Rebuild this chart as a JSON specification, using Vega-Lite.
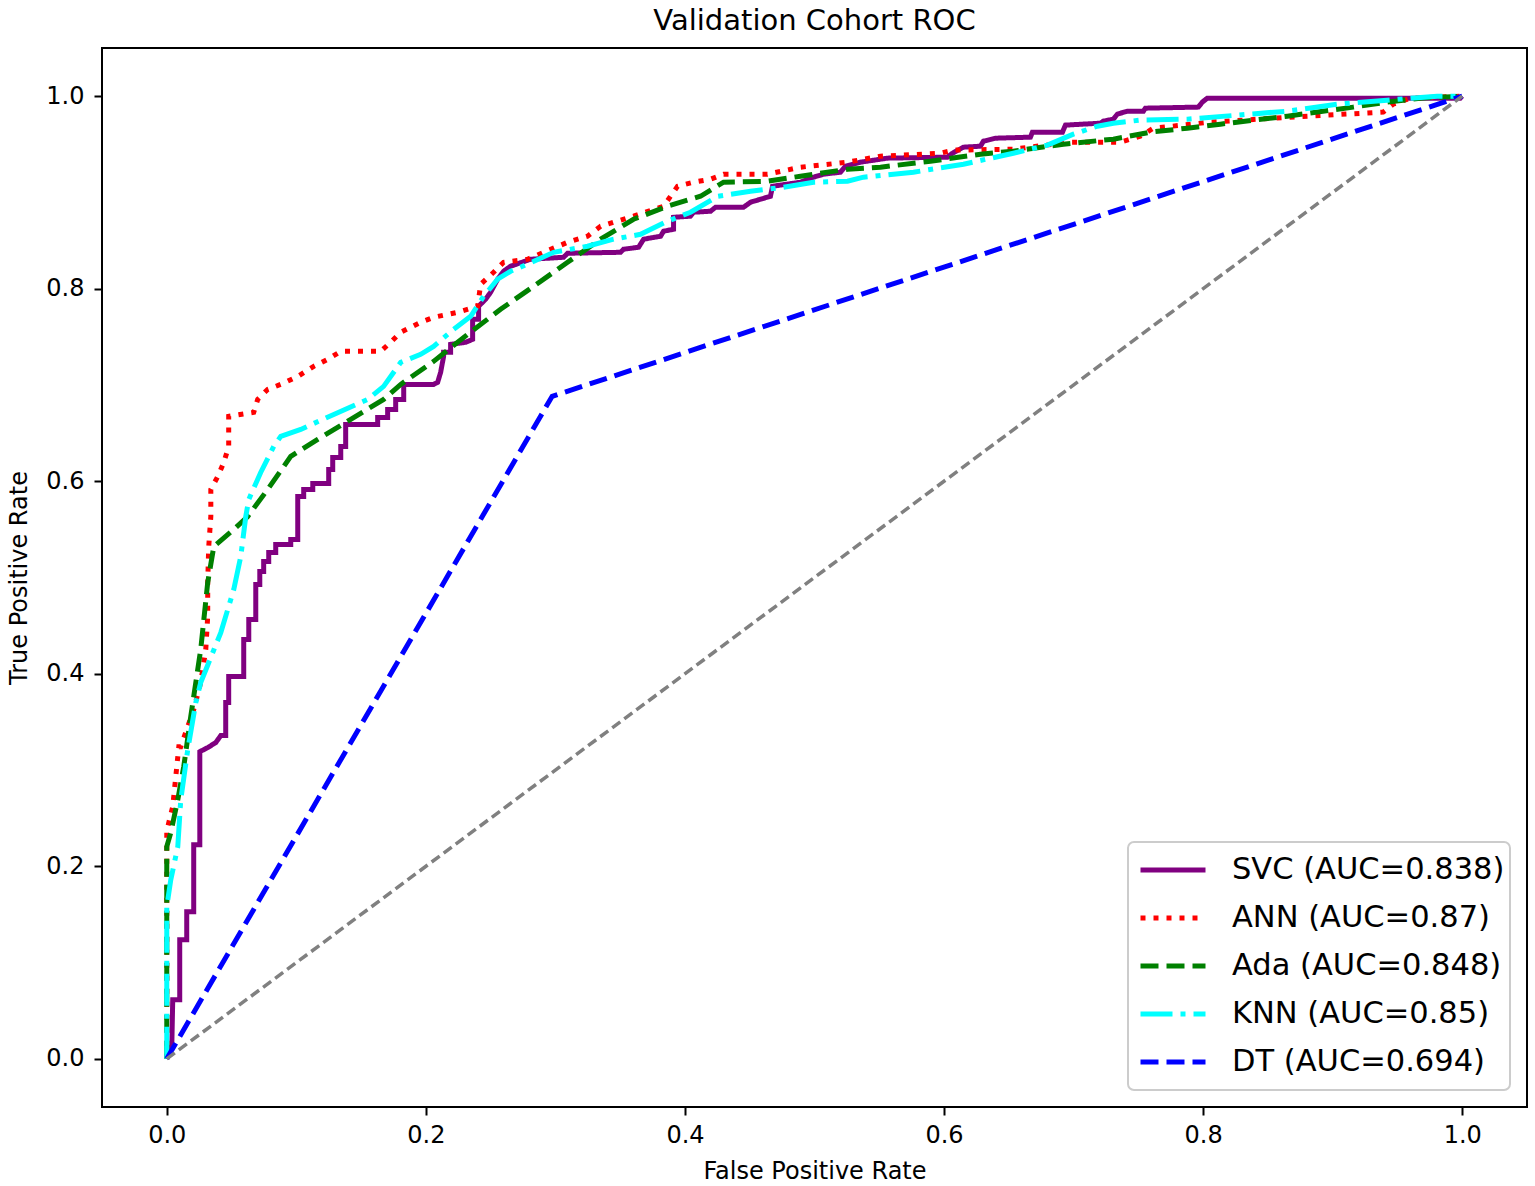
{
  "$schema": "https://vega.github.io/schema/vega-lite/v6.json",
  "autosize": {"type": "none"},
  "padding": {"left": 102, "top": 48, "right": 8, "bottom": 79},
  "width": 1425,
  "height": 1059,
  "background": "white",
  "title": {"text": "Validation Cohort ROC", "font": "DejaVu Sans", "fontSize": 29, "fontWeight": "normal", "color": "black", "offset": 12},
  "config": {
    "view": {"stroke": "black", "strokeWidth": 2},
    "axis": {
      "grid": false, "domain": false,
      "labelFont": "DejaVu Sans", "labelFontSize": 24, "labelColor": "black",
      "titleFont": "DejaVu Sans", "titleFontSize": 24, "titleFontWeight": "normal", "titleColor": "black",
      "tickColor": "black", "tickWidth": 2, "tickSize": 8, "labelPadding": 8, "format": ".1f"
    },
    "legend": {
      "orient": "bottom-right", "offset": 17, "title": null,
      "labelFont": "DejaVu Sans", "labelFontSize": 30.5, "labelColor": "black", "labelLimit": 500,
      "symbolType": "stroke", "symbolSize": 4225, "symbolStrokeWidth": 5, "symbolOffset": 5, "labelOffset": 24,
      "clipHeight": 46, "rowPadding": 2, "padding": 5, "fillColor": "white", "strokeColor": "#cccccc", "strokeWidth": 2, "cornerRadius": 6
    }
  },
  "datasets": {
    "chance": [{"fpr": 0, "tpr": 0}, {"fpr": 1, "tpr": 1}],
    "roc": [
      {"model": "SVC (AUC=0.838)", "fpr": 0, "tpr": 0},
      {"model": "SVC (AUC=0.838)", "fpr": 0.0039, "tpr": 0.0146},
      {"model": "SVC (AUC=0.838)", "fpr": 0.0046, "tpr": 0.0613},
      {"model": "SVC (AUC=0.838)", "fpr": 0.0100, "tpr": 0.0613},
      {"model": "SVC (AUC=0.838)", "fpr": 0.0100, "tpr": 0.1237},
      {"model": "SVC (AUC=0.838)", "fpr": 0.0154, "tpr": 0.1237},
      {"model": "SVC (AUC=0.838)", "fpr": 0.0154, "tpr": 0.1528},
      {"model": "SVC (AUC=0.838)", "fpr": 0.0208, "tpr": 0.1528},
      {"model": "SVC (AUC=0.838)", "fpr": 0.0208, "tpr": 0.2225},
      {"model": "SVC (AUC=0.838)", "fpr": 0.0255, "tpr": 0.2225},
      {"model": "SVC (AUC=0.838)", "fpr": 0.0255, "tpr": 0.3191},
      {"model": "SVC (AUC=0.838)", "fpr": 0.0316, "tpr": 0.3233},
      {"model": "SVC (AUC=0.838)", "fpr": 0.0378, "tpr": 0.3285},
      {"model": "SVC (AUC=0.838)", "fpr": 0.0417, "tpr": 0.3358},
      {"model": "SVC (AUC=0.838)", "fpr": 0.0455, "tpr": 0.3358},
      {"model": "SVC (AUC=0.838)", "fpr": 0.0455, "tpr": 0.3701},
      {"model": "SVC (AUC=0.838)", "fpr": 0.0478, "tpr": 0.3701},
      {"model": "SVC (AUC=0.838)", "fpr": 0.0478, "tpr": 0.3971},
      {"model": "SVC (AUC=0.838)", "fpr": 0.0594, "tpr": 0.3971},
      {"model": "SVC (AUC=0.838)", "fpr": 0.0594, "tpr": 0.4356},
      {"model": "SVC (AUC=0.838)", "fpr": 0.0633, "tpr": 0.4356},
      {"model": "SVC (AUC=0.838)", "fpr": 0.0633, "tpr": 0.4563},
      {"model": "SVC (AUC=0.838)", "fpr": 0.0687, "tpr": 0.4563},
      {"model": "SVC (AUC=0.838)", "fpr": 0.0687, "tpr": 0.4927},
      {"model": "SVC (AUC=0.838)", "fpr": 0.0718, "tpr": 0.4927},
      {"model": "SVC (AUC=0.838)", "fpr": 0.0718, "tpr": 0.5062},
      {"model": "SVC (AUC=0.838)", "fpr": 0.0748, "tpr": 0.5062},
      {"model": "SVC (AUC=0.838)", "fpr": 0.0748, "tpr": 0.5166},
      {"model": "SVC (AUC=0.838)", "fpr": 0.0787, "tpr": 0.5166},
      {"model": "SVC (AUC=0.838)", "fpr": 0.0787, "tpr": 0.5260},
      {"model": "SVC (AUC=0.838)", "fpr": 0.0841, "tpr": 0.5260},
      {"model": "SVC (AUC=0.838)", "fpr": 0.0841, "tpr": 0.5343},
      {"model": "SVC (AUC=0.838)", "fpr": 0.0957, "tpr": 0.5343},
      {"model": "SVC (AUC=0.838)", "fpr": 0.0957, "tpr": 0.5395},
      {"model": "SVC (AUC=0.838)", "fpr": 0.1011, "tpr": 0.5395},
      {"model": "SVC (AUC=0.838)", "fpr": 0.1011, "tpr": 0.5842},
      {"model": "SVC (AUC=0.838)", "fpr": 0.1057, "tpr": 0.5842},
      {"model": "SVC (AUC=0.838)", "fpr": 0.1057, "tpr": 0.5915},
      {"model": "SVC (AUC=0.838)", "fpr": 0.1127, "tpr": 0.5915},
      {"model": "SVC (AUC=0.838)", "fpr": 0.1127, "tpr": 0.5977},
      {"model": "SVC (AUC=0.838)", "fpr": 0.1250, "tpr": 0.5977},
      {"model": "SVC (AUC=0.838)", "fpr": 0.1250, "tpr": 0.6123},
      {"model": "SVC (AUC=0.838)", "fpr": 0.1281, "tpr": 0.6123},
      {"model": "SVC (AUC=0.838)", "fpr": 0.1281, "tpr": 0.6247},
      {"model": "SVC (AUC=0.838)", "fpr": 0.1343, "tpr": 0.6247},
      {"model": "SVC (AUC=0.838)", "fpr": 0.1343, "tpr": 0.6362},
      {"model": "SVC (AUC=0.838)", "fpr": 0.1381, "tpr": 0.6362},
      {"model": "SVC (AUC=0.838)", "fpr": 0.1381, "tpr": 0.6590},
      {"model": "SVC (AUC=0.838)", "fpr": 0.1628, "tpr": 0.6590},
      {"model": "SVC (AUC=0.838)", "fpr": 0.1628, "tpr": 0.6663},
      {"model": "SVC (AUC=0.838)", "fpr": 0.1705, "tpr": 0.6663},
      {"model": "SVC (AUC=0.838)", "fpr": 0.1705, "tpr": 0.6746},
      {"model": "SVC (AUC=0.838)", "fpr": 0.1767, "tpr": 0.6746},
      {"model": "SVC (AUC=0.838)", "fpr": 0.1767, "tpr": 0.6850},
      {"model": "SVC (AUC=0.838)", "fpr": 0.1829, "tpr": 0.6850},
      {"model": "SVC (AUC=0.838)", "fpr": 0.1829, "tpr": 0.7006},
      {"model": "SVC (AUC=0.838)", "fpr": 0.2060, "tpr": 0.7006},
      {"model": "SVC (AUC=0.838)", "fpr": 0.2091, "tpr": 0.7027},
      {"model": "SVC (AUC=0.838)", "fpr": 0.2114, "tpr": 0.7131},
      {"model": "SVC (AUC=0.838)", "fpr": 0.2137, "tpr": 0.7297},
      {"model": "SVC (AUC=0.838)", "fpr": 0.2137, "tpr": 0.7339},
      {"model": "SVC (AUC=0.838)", "fpr": 0.2191, "tpr": 0.7339},
      {"model": "SVC (AUC=0.838)", "fpr": 0.2191, "tpr": 0.7422},
      {"model": "SVC (AUC=0.838)", "fpr": 0.2307, "tpr": 0.7443},
      {"model": "SVC (AUC=0.838)", "fpr": 0.2361, "tpr": 0.7474},
      {"model": "SVC (AUC=0.838)", "fpr": 0.2361, "tpr": 0.7682},
      {"model": "SVC (AUC=0.838)", "fpr": 0.2407, "tpr": 0.7682},
      {"model": "SVC (AUC=0.838)", "fpr": 0.2407, "tpr": 0.7817},
      {"model": "SVC (AUC=0.838)", "fpr": 0.2461, "tpr": 0.7890},
      {"model": "SVC (AUC=0.838)", "fpr": 0.2500, "tpr": 0.7963},
      {"model": "SVC (AUC=0.838)", "fpr": 0.2554, "tpr": 0.8098},
      {"model": "SVC (AUC=0.838)", "fpr": 0.2600, "tpr": 0.8181},
      {"model": "SVC (AUC=0.838)", "fpr": 0.2654, "tpr": 0.8233},
      {"model": "SVC (AUC=0.838)", "fpr": 0.2809, "tpr": 0.8306},
      {"model": "SVC (AUC=0.838)", "fpr": 0.3063, "tpr": 0.8326},
      {"model": "SVC (AUC=0.838)", "fpr": 0.3094, "tpr": 0.8368},
      {"model": "SVC (AUC=0.838)", "fpr": 0.3503, "tpr": 0.8378},
      {"model": "SVC (AUC=0.838)", "fpr": 0.3526, "tpr": 0.8410},
      {"model": "SVC (AUC=0.838)", "fpr": 0.3642, "tpr": 0.8430},
      {"model": "SVC (AUC=0.838)", "fpr": 0.3681, "tpr": 0.8514},
      {"model": "SVC (AUC=0.838)", "fpr": 0.3812, "tpr": 0.8545},
      {"model": "SVC (AUC=0.838)", "fpr": 0.3835, "tpr": 0.8597},
      {"model": "SVC (AUC=0.838)", "fpr": 0.3912, "tpr": 0.8617},
      {"model": "SVC (AUC=0.838)", "fpr": 0.3912, "tpr": 0.8742},
      {"model": "SVC (AUC=0.838)", "fpr": 0.4043, "tpr": 0.8753},
      {"model": "SVC (AUC=0.838)", "fpr": 0.4066, "tpr": 0.8794},
      {"model": "SVC (AUC=0.838)", "fpr": 0.4198, "tpr": 0.8805},
      {"model": "SVC (AUC=0.838)", "fpr": 0.4236, "tpr": 0.8846},
      {"model": "SVC (AUC=0.838)", "fpr": 0.4452, "tpr": 0.8846},
      {"model": "SVC (AUC=0.838)", "fpr": 0.4506, "tpr": 0.8898},
      {"model": "SVC (AUC=0.838)", "fpr": 0.4660, "tpr": 0.8960},
      {"model": "SVC (AUC=0.838)", "fpr": 0.4676, "tpr": 0.9064},
      {"model": "SVC (AUC=0.838)", "fpr": 0.4892, "tpr": 0.9106},
      {"model": "SVC (AUC=0.838)", "fpr": 0.4992, "tpr": 0.9158},
      {"model": "SVC (AUC=0.838)", "fpr": 0.5069, "tpr": 0.9189},
      {"model": "SVC (AUC=0.838)", "fpr": 0.5201, "tpr": 0.9210},
      {"model": "SVC (AUC=0.838)", "fpr": 0.5239, "tpr": 0.9272},
      {"model": "SVC (AUC=0.838)", "fpr": 0.5355, "tpr": 0.9314},
      {"model": "SVC (AUC=0.838)", "fpr": 0.5563, "tpr": 0.9356},
      {"model": "SVC (AUC=0.838)", "fpr": 0.6026, "tpr": 0.9366},
      {"model": "SVC (AUC=0.838)", "fpr": 0.6065, "tpr": 0.9407},
      {"model": "SVC (AUC=0.838)", "fpr": 0.6150, "tpr": 0.9470},
      {"model": "SVC (AUC=0.838)", "fpr": 0.6281, "tpr": 0.9480},
      {"model": "SVC (AUC=0.838)", "fpr": 0.6304, "tpr": 0.9532},
      {"model": "SVC (AUC=0.838)", "fpr": 0.6397, "tpr": 0.9563},
      {"model": "SVC (AUC=0.838)", "fpr": 0.6667, "tpr": 0.9574},
      {"model": "SVC (AUC=0.838)", "fpr": 0.6682, "tpr": 0.9626},
      {"model": "SVC (AUC=0.838)", "fpr": 0.6914, "tpr": 0.9626},
      {"model": "SVC (AUC=0.838)", "fpr": 0.6937, "tpr": 0.9699},
      {"model": "SVC (AUC=0.838)", "fpr": 0.7207, "tpr": 0.9719},
      {"model": "SVC (AUC=0.838)", "fpr": 0.7230, "tpr": 0.9740},
      {"model": "SVC (AUC=0.838)", "fpr": 0.7307, "tpr": 0.9761},
      {"model": "SVC (AUC=0.838)", "fpr": 0.7338, "tpr": 0.9813},
      {"model": "SVC (AUC=0.838)", "fpr": 0.7415, "tpr": 0.9844},
      {"model": "SVC (AUC=0.838)", "fpr": 0.7539, "tpr": 0.9844},
      {"model": "SVC (AUC=0.838)", "fpr": 0.7554, "tpr": 0.9875},
      {"model": "SVC (AUC=0.838)", "fpr": 0.7963, "tpr": 0.9886},
      {"model": "SVC (AUC=0.838)", "fpr": 0.7994, "tpr": 0.9938},
      {"model": "SVC (AUC=0.838)", "fpr": 0.8032, "tpr": 0.9979},
      {"model": "SVC (AUC=0.838)", "fpr": 0.9985, "tpr": 0.9979},
      {"model": "SVC (AUC=0.838)", "fpr": 1, "tpr": 1},
      {"model": "ANN (AUC=0.87)", "fpr": 0, "tpr": 0},
      {"model": "ANN (AUC=0.87)", "fpr": 0, "tpr": 0.2401},
      {"model": "ANN (AUC=0.87)", "fpr": 0.0008, "tpr": 0.2412},
      {"model": "ANN (AUC=0.87)", "fpr": 0.0046, "tpr": 0.2620},
      {"model": "ANN (AUC=0.87)", "fpr": 0.0093, "tpr": 0.3243},
      {"model": "ANN (AUC=0.87)", "fpr": 0.0108, "tpr": 0.3243},
      {"model": "ANN (AUC=0.87)", "fpr": 0.0208, "tpr": 0.3628},
      {"model": "ANN (AUC=0.87)", "fpr": 0.0262, "tpr": 0.3909},
      {"model": "ANN (AUC=0.87)", "fpr": 0.0301, "tpr": 0.4252},
      {"model": "ANN (AUC=0.87)", "fpr": 0.0316, "tpr": 0.4595},
      {"model": "ANN (AUC=0.87)", "fpr": 0.0316, "tpr": 0.4948},
      {"model": "ANN (AUC=0.87)", "fpr": 0.0324, "tpr": 0.5322},
      {"model": "ANN (AUC=0.87)", "fpr": 0.0340, "tpr": 0.5634},
      {"model": "ANN (AUC=0.87)", "fpr": 0.0340, "tpr": 0.5915},
      {"model": "ANN (AUC=0.87)", "fpr": 0.0394, "tpr": 0.6050},
      {"model": "ANN (AUC=0.87)", "fpr": 0.0440, "tpr": 0.6195},
      {"model": "ANN (AUC=0.87)", "fpr": 0.0478, "tpr": 0.6362},
      {"model": "ANN (AUC=0.87)", "fpr": 0.0478, "tpr": 0.6674},
      {"model": "ANN (AUC=0.87)", "fpr": 0.0671, "tpr": 0.6715},
      {"model": "ANN (AUC=0.87)", "fpr": 0.0702, "tpr": 0.6850},
      {"model": "ANN (AUC=0.87)", "fpr": 0.0779, "tpr": 0.6954},
      {"model": "ANN (AUC=0.87)", "fpr": 0.0880, "tpr": 0.7006},
      {"model": "ANN (AUC=0.87)", "fpr": 0.1011, "tpr": 0.7089},
      {"model": "ANN (AUC=0.87)", "fpr": 0.1134, "tpr": 0.7193},
      {"model": "ANN (AUC=0.87)", "fpr": 0.1242, "tpr": 0.7266},
      {"model": "ANN (AUC=0.87)", "fpr": 0.1343, "tpr": 0.7349},
      {"model": "ANN (AUC=0.87)", "fpr": 0.1651, "tpr": 0.7349},
      {"model": "ANN (AUC=0.87)", "fpr": 0.1728, "tpr": 0.7443},
      {"model": "ANN (AUC=0.87)", "fpr": 0.1806, "tpr": 0.7547},
      {"model": "ANN (AUC=0.87)", "fpr": 0.1960, "tpr": 0.7651},
      {"model": "ANN (AUC=0.87)", "fpr": 0.2060, "tpr": 0.7703},
      {"model": "ANN (AUC=0.87)", "fpr": 0.2245, "tpr": 0.7755},
      {"model": "ANN (AUC=0.87)", "fpr": 0.2400, "tpr": 0.7817},
      {"model": "ANN (AUC=0.87)", "fpr": 0.2423, "tpr": 0.8046},
      {"model": "ANN (AUC=0.87)", "fpr": 0.2523, "tpr": 0.8170},
      {"model": "ANN (AUC=0.87)", "fpr": 0.2600, "tpr": 0.8274},
      {"model": "ANN (AUC=0.87)", "fpr": 0.2785, "tpr": 0.8306},
      {"model": "ANN (AUC=0.87)", "fpr": 0.2909, "tpr": 0.8378},
      {"model": "ANN (AUC=0.87)", "fpr": 0.3094, "tpr": 0.8482},
      {"model": "ANN (AUC=0.87)", "fpr": 0.3248, "tpr": 0.8545},
      {"model": "ANN (AUC=0.87)", "fpr": 0.3349, "tpr": 0.8649},
      {"model": "ANN (AUC=0.87)", "fpr": 0.3603, "tpr": 0.8753},
      {"model": "ANN (AUC=0.87)", "fpr": 0.3835, "tpr": 0.8857},
      {"model": "ANN (AUC=0.87)", "fpr": 0.3943, "tpr": 0.9064},
      {"model": "ANN (AUC=0.87)", "fpr": 0.4066, "tpr": 0.9106},
      {"model": "ANN (AUC=0.87)", "fpr": 0.4198, "tpr": 0.9137},
      {"model": "ANN (AUC=0.87)", "fpr": 0.4298, "tpr": 0.9189},
      {"model": "ANN (AUC=0.87)", "fpr": 0.4637, "tpr": 0.9189},
      {"model": "ANN (AUC=0.87)", "fpr": 0.4892, "tpr": 0.9262},
      {"model": "ANN (AUC=0.87)", "fpr": 0.5255, "tpr": 0.9314},
      {"model": "ANN (AUC=0.87)", "fpr": 0.5509, "tpr": 0.9376},
      {"model": "ANN (AUC=0.87)", "fpr": 0.5972, "tpr": 0.9407},
      {"model": "ANN (AUC=0.87)", "fpr": 0.6073, "tpr": 0.9439},
      {"model": "ANN (AUC=0.87)", "fpr": 0.6535, "tpr": 0.9449},
      {"model": "ANN (AUC=0.87)", "fpr": 0.6975, "tpr": 0.9522},
      {"model": "ANN (AUC=0.87)", "fpr": 0.7361, "tpr": 0.9522},
      {"model": "ANN (AUC=0.87)", "fpr": 0.7515, "tpr": 0.9584},
      {"model": "ANN (AUC=0.87)", "fpr": 0.7616, "tpr": 0.9667},
      {"model": "ANN (AUC=0.87)", "fpr": 0.8056, "tpr": 0.9730},
      {"model": "ANN (AUC=0.87)", "fpr": 0.8804, "tpr": 0.9792},
      {"model": "ANN (AUC=0.87)", "fpr": 0.9390, "tpr": 0.9834},
      {"model": "ANN (AUC=0.87)", "fpr": 0.9468, "tpr": 0.9917},
      {"model": "ANN (AUC=0.87)", "fpr": 0.9599, "tpr": 0.9979},
      {"model": "ANN (AUC=0.87)", "fpr": 1, "tpr": 1},
      {"model": "Ada (AUC=0.848)", "fpr": 0, "tpr": 0},
      {"model": "Ada (AUC=0.848)", "fpr": 0, "tpr": 0.2204},
      {"model": "Ada (AUC=0.848)", "fpr": 0.0031, "tpr": 0.2349},
      {"model": "Ada (AUC=0.848)", "fpr": 0.0085, "tpr": 0.2692},
      {"model": "Ada (AUC=0.848)", "fpr": 0.0131, "tpr": 0.3035},
      {"model": "Ada (AUC=0.848)", "fpr": 0.0185, "tpr": 0.3555},
      {"model": "Ada (AUC=0.848)", "fpr": 0.0262, "tpr": 0.4252},
      {"model": "Ada (AUC=0.848)", "fpr": 0.0316, "tpr": 0.4948},
      {"model": "Ada (AUC=0.848)", "fpr": 0.0363, "tpr": 0.5322},
      {"model": "Ada (AUC=0.848)", "fpr": 0.0517, "tpr": 0.5499},
      {"model": "Ada (AUC=0.848)", "fpr": 0.0625, "tpr": 0.5634},
      {"model": "Ada (AUC=0.848)", "fpr": 0.0779, "tpr": 0.5915},
      {"model": "Ada (AUC=0.848)", "fpr": 0.0957, "tpr": 0.6258},
      {"model": "Ada (AUC=0.848)", "fpr": 0.1165, "tpr": 0.6435},
      {"model": "Ada (AUC=0.848)", "fpr": 0.1420, "tpr": 0.6642},
      {"model": "Ada (AUC=0.848)", "fpr": 0.1674, "tpr": 0.6850},
      {"model": "Ada (AUC=0.848)", "fpr": 0.1806, "tpr": 0.7006},
      {"model": "Ada (AUC=0.848)", "fpr": 0.2060, "tpr": 0.7245},
      {"model": "Ada (AUC=0.848)", "fpr": 0.2323, "tpr": 0.7526},
      {"model": "Ada (AUC=0.848)", "fpr": 0.2577, "tpr": 0.7786},
      {"model": "Ada (AUC=0.848)", "fpr": 0.2832, "tpr": 0.8025},
      {"model": "Ada (AUC=0.848)", "fpr": 0.3094, "tpr": 0.8274},
      {"model": "Ada (AUC=0.848)", "fpr": 0.3349, "tpr": 0.8514},
      {"model": "Ada (AUC=0.848)", "fpr": 0.3603, "tpr": 0.8721},
      {"model": "Ada (AUC=0.848)", "fpr": 0.3866, "tpr": 0.8857},
      {"model": "Ada (AUC=0.848)", "fpr": 0.4120, "tpr": 0.8960},
      {"model": "Ada (AUC=0.848)", "fpr": 0.4298, "tpr": 0.9106},
      {"model": "Ada (AUC=0.848)", "fpr": 0.4637, "tpr": 0.9116},
      {"model": "Ada (AUC=0.848)", "fpr": 0.4892, "tpr": 0.9168},
      {"model": "Ada (AUC=0.848)", "fpr": 0.5255, "tpr": 0.9241},
      {"model": "Ada (AUC=0.848)", "fpr": 0.5509, "tpr": 0.9262},
      {"model": "Ada (AUC=0.848)", "fpr": 0.5895, "tpr": 0.9324},
      {"model": "Ada (AUC=0.848)", "fpr": 0.6281, "tpr": 0.9397},
      {"model": "Ada (AUC=0.848)", "fpr": 0.6535, "tpr": 0.9428},
      {"model": "Ada (AUC=0.848)", "fpr": 0.6921, "tpr": 0.9501},
      {"model": "Ada (AUC=0.848)", "fpr": 0.7307, "tpr": 0.9553},
      {"model": "Ada (AUC=0.848)", "fpr": 0.7593, "tpr": 0.9626},
      {"model": "Ada (AUC=0.848)", "fpr": 0.7878, "tpr": 0.9667},
      {"model": "Ada (AUC=0.848)", "fpr": 0.8133, "tpr": 0.9709},
      {"model": "Ada (AUC=0.848)", "fpr": 0.8650, "tpr": 0.9792},
      {"model": "Ada (AUC=0.848)", "fpr": 0.9159, "tpr": 0.9886},
      {"model": "Ada (AUC=0.848)", "fpr": 0.9421, "tpr": 0.9938},
      {"model": "Ada (AUC=0.848)", "fpr": 0.9676, "tpr": 0.9979},
      {"model": "Ada (AUC=0.848)", "fpr": 1, "tpr": 1},
      {"model": "KNN (AUC=0.85)", "fpr": 0, "tpr": 0},
      {"model": "KNN (AUC=0.85)", "fpr": 0, "tpr": 0.1580},
      {"model": "KNN (AUC=0.85)", "fpr": 0.0031, "tpr": 0.1861},
      {"model": "KNN (AUC=0.85)", "fpr": 0.0085, "tpr": 0.2204},
      {"model": "KNN (AUC=0.85)", "fpr": 0.0108, "tpr": 0.2692},
      {"model": "KNN (AUC=0.85)", "fpr": 0.0162, "tpr": 0.3212},
      {"model": "KNN (AUC=0.85)", "fpr": 0.0224, "tpr": 0.3701},
      {"model": "KNN (AUC=0.85)", "fpr": 0.0262, "tpr": 0.3909},
      {"model": "KNN (AUC=0.85)", "fpr": 0.0417, "tpr": 0.4428},
      {"model": "KNN (AUC=0.85)", "fpr": 0.0517, "tpr": 0.4875},
      {"model": "KNN (AUC=0.85)", "fpr": 0.0571, "tpr": 0.5218},
      {"model": "KNN (AUC=0.85)", "fpr": 0.0610, "tpr": 0.5634},
      {"model": "KNN (AUC=0.85)", "fpr": 0.0633, "tpr": 0.5811},
      {"model": "KNN (AUC=0.85)", "fpr": 0.0725, "tpr": 0.6091},
      {"model": "KNN (AUC=0.85)", "fpr": 0.0826, "tpr": 0.6362},
      {"model": "KNN (AUC=0.85)", "fpr": 0.0880, "tpr": 0.6466},
      {"model": "KNN (AUC=0.85)", "fpr": 0.1034, "tpr": 0.6538},
      {"model": "KNN (AUC=0.85)", "fpr": 0.1289, "tpr": 0.6694},
      {"model": "KNN (AUC=0.85)", "fpr": 0.1551, "tpr": 0.6850},
      {"model": "KNN (AUC=0.85)", "fpr": 0.1674, "tpr": 0.6985},
      {"model": "KNN (AUC=0.85)", "fpr": 0.1806, "tpr": 0.7235},
      {"model": "KNN (AUC=0.85)", "fpr": 0.1960, "tpr": 0.7318},
      {"model": "KNN (AUC=0.85)", "fpr": 0.2060, "tpr": 0.7401},
      {"model": "KNN (AUC=0.85)", "fpr": 0.2215, "tpr": 0.7578},
      {"model": "KNN (AUC=0.85)", "fpr": 0.2346, "tpr": 0.7713},
      {"model": "KNN (AUC=0.85)", "fpr": 0.2446, "tpr": 0.7921},
      {"model": "KNN (AUC=0.85)", "fpr": 0.2554, "tpr": 0.8098},
      {"model": "KNN (AUC=0.85)", "fpr": 0.2654, "tpr": 0.8181},
      {"model": "KNN (AUC=0.85)", "fpr": 0.2785, "tpr": 0.8254},
      {"model": "KNN (AUC=0.85)", "fpr": 0.2986, "tpr": 0.8378},
      {"model": "KNN (AUC=0.85)", "fpr": 0.3248, "tpr": 0.8441},
      {"model": "KNN (AUC=0.85)", "fpr": 0.3449, "tpr": 0.8514},
      {"model": "KNN (AUC=0.85)", "fpr": 0.3657, "tpr": 0.8565},
      {"model": "KNN (AUC=0.85)", "fpr": 0.3866, "tpr": 0.8701},
      {"model": "KNN (AUC=0.85)", "fpr": 0.4043, "tpr": 0.8794},
      {"model": "KNN (AUC=0.85)", "fpr": 0.4252, "tpr": 0.8960},
      {"model": "KNN (AUC=0.85)", "fpr": 0.4506, "tpr": 0.9012},
      {"model": "KNN (AUC=0.85)", "fpr": 0.4761, "tpr": 0.9054},
      {"model": "KNN (AUC=0.85)", "fpr": 0.4992, "tpr": 0.9106},
      {"model": "KNN (AUC=0.85)", "fpr": 0.5255, "tpr": 0.9116},
      {"model": "KNN (AUC=0.85)", "fpr": 0.5378, "tpr": 0.9158},
      {"model": "KNN (AUC=0.85)", "fpr": 0.5764, "tpr": 0.9210},
      {"model": "KNN (AUC=0.85)", "fpr": 0.6150, "tpr": 0.9293},
      {"model": "KNN (AUC=0.85)", "fpr": 0.6535, "tpr": 0.9407},
      {"model": "KNN (AUC=0.85)", "fpr": 0.6798, "tpr": 0.9491},
      {"model": "KNN (AUC=0.85)", "fpr": 0.6998, "tpr": 0.9605},
      {"model": "KNN (AUC=0.85)", "fpr": 0.7184, "tpr": 0.9688},
      {"model": "KNN (AUC=0.85)", "fpr": 0.7307, "tpr": 0.9719},
      {"model": "KNN (AUC=0.85)", "fpr": 0.7515, "tpr": 0.9751},
      {"model": "KNN (AUC=0.85)", "fpr": 0.7878, "tpr": 0.9761},
      {"model": "KNN (AUC=0.85)", "fpr": 0.8650, "tpr": 0.9844},
      {"model": "KNN (AUC=0.85)", "fpr": 0.9035, "tpr": 0.9917},
      {"model": "KNN (AUC=0.85)", "fpr": 0.9421, "tpr": 0.9958},
      {"model": "KNN (AUC=0.85)", "fpr": 0.9807, "tpr": 1},
      {"model": "KNN (AUC=0.85)", "fpr": 1, "tpr": 1},
      {"model": "DT (AUC=0.694)", "fpr": 0, "tpr": 0},
      {"model": "DT (AUC=0.694)", "fpr": 0.2975, "tpr": 0.6882},
      {"model": "DT (AUC=0.694)", "fpr": 1, "tpr": 1}
    ]
  },
  "layer": [
    {
      "data": {"name": "roc"},
      "mark": {"type": "line", "strokeWidth": 5, "clip": true},
      "encoding": {
        "x": {"field": "fpr", "type": "quantitative", "title": "False Positive Rate",
              "scale": {"domain": [-0.05, 1.05], "nice": false, "zero": false},
              "axis": {"values": [0, 0.2, 0.4, 0.6, 0.8, 1.0], "titlePadding": 12}},
        "y": {"field": "tpr", "type": "quantitative", "title": "True Positive Rate",
              "scale": {"domain": [-0.05, 1.05], "nice": false, "zero": false},
              "axis": {"values": [0, 0.2, 0.4, 0.6, 0.8, 1.0], "labelPadding": 10, "titlePadding": 14}},
        "color": {"field": "model", "type": "nominal",
                  "scale": {"domain": ["SVC (AUC=0.838)", "ANN (AUC=0.87)", "Ada (AUC=0.848)", "KNN (AUC=0.85)", "DT (AUC=0.694)"],
                            "range": ["purple", "red", "green", "cyan", "blue"]}},
        "strokeDash": {"field": "model", "type": "nominal",
                       "scale": {"domain": ["SVC (AUC=0.838)", "ANN (AUC=0.87)", "Ada (AUC=0.848)", "KNN (AUC=0.85)", "DT (AUC=0.694)"],
                                 "range": [[1, 0], [5, 8], [18, 8], [32, 8, 5, 8], [18, 8]]}}
      }
    },
    {
      "data": {"name": "chance"},
      "mark": {"type": "line", "color": "gray", "strokeWidth": 3.5, "strokeDash": [10, 5]},
      "encoding": {
        "x": {"field": "fpr", "type": "quantitative"},
        "y": {"field": "tpr", "type": "quantitative"}
      }
    }
  ]
}
